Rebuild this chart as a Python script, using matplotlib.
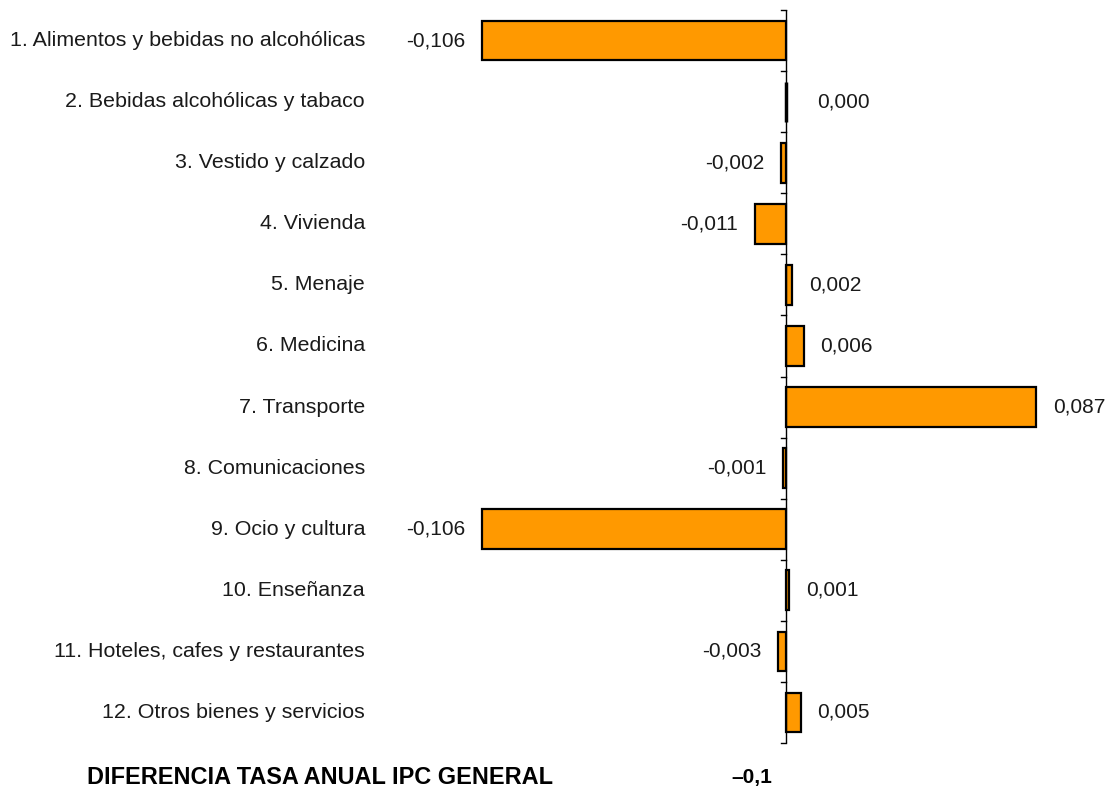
import matplotlib.pyplot as plt
import numpy as np

plt.rcParams['font.family'] = ['Liberation Sans', 'DejaVu Sans']

categorias = [
    "1. Alimentos y bebidas no alcohólicas",
    "2. Bebidas alcohólicas y tabaco",
    "3. Vestido y calzado",
    "4. Vivienda",
    "5. Menaje",
    "6. Medicina",
    "7. Transporte",
    "8. Comunicaciones",
    "9. Ocio y cultura",
    "10. Enseñanza",
    "11. Hoteles, cafes y restaurantes",
    "12. Otros bienes y servicios",
]
valores = [-0.106, 0.000, -0.002, -0.011, 0.002, 0.006, 0.087, -0.001, -0.106, 0.001, -0.003, 0.005]
titulo_total = "DIFERENCIA TASA ANUAL IPC GENERAL"
valor_total = -0.1

fig = plt.figure(figsize=(11.09, 7.90), dpi=100)
ax = fig.add_axes([0.3985, 0.0595, 0.6, 0.9278])

y = np.arange(len(categorias))
bars = ax.barh(y, valores, height=0.65, color='#FF9900', edgecolor='black', linewidth=1.6, zorder=2)
for b, v in zip(bars, valores):
    if v == 0:
        b.set_linewidth(2.5)

ax.set_xlim(-0.12, -0.12 + 0.6 * 1109 / 2870)
ax.set_ylim(len(categorias) - 0.5, -0.5)

for s in ax.spines.values():
    s.set_visible(False)
ax.axvline(0, color='black', linewidth=1, zorder=3)
ax.set_xticks([])
ax.set_yticks([])
for b in np.arange(-0.5, len(categorias), 1.0):
    ax.plot([-0.0018, 0], [b, b], color='black', linewidth=1, clip_on=False, zorder=3)

for i, (cat, v) in enumerate(zip(categorias, valores)):
    ax.text(-0.1468, i, cat, ha='right', va='center', fontsize=15.4, color='#1a1a1a')
    txt = f"{v:.3f}".replace('.', ',')
    if v < 0:
        ax.annotate(txt, (v, i), xytext=(-12, 0), textcoords='offset points',
                    ha='right', va='center', fontsize=15, color='#1a1a1a')
    else:
        off = 22 if v == 0 else 12
        ax.annotate(txt, (v, i), xytext=(off, 0), textcoords='offset points',
                    ha='left', va='center', fontsize=15, color='#1a1a1a')

fig.text(87 / 1109, 1 - 778 / 790, titulo_total, ha='left', va='center',
         fontsize=16.9, fontweight='bold')
fig.text(772 / 1109, 1 - 778 / 790, f"{valor_total:.1f}".replace('-', '–').replace('.', ','),
         ha='right', va='center', fontsize=15, fontweight='bold')

fig.savefig('out.png', dpi=100)
